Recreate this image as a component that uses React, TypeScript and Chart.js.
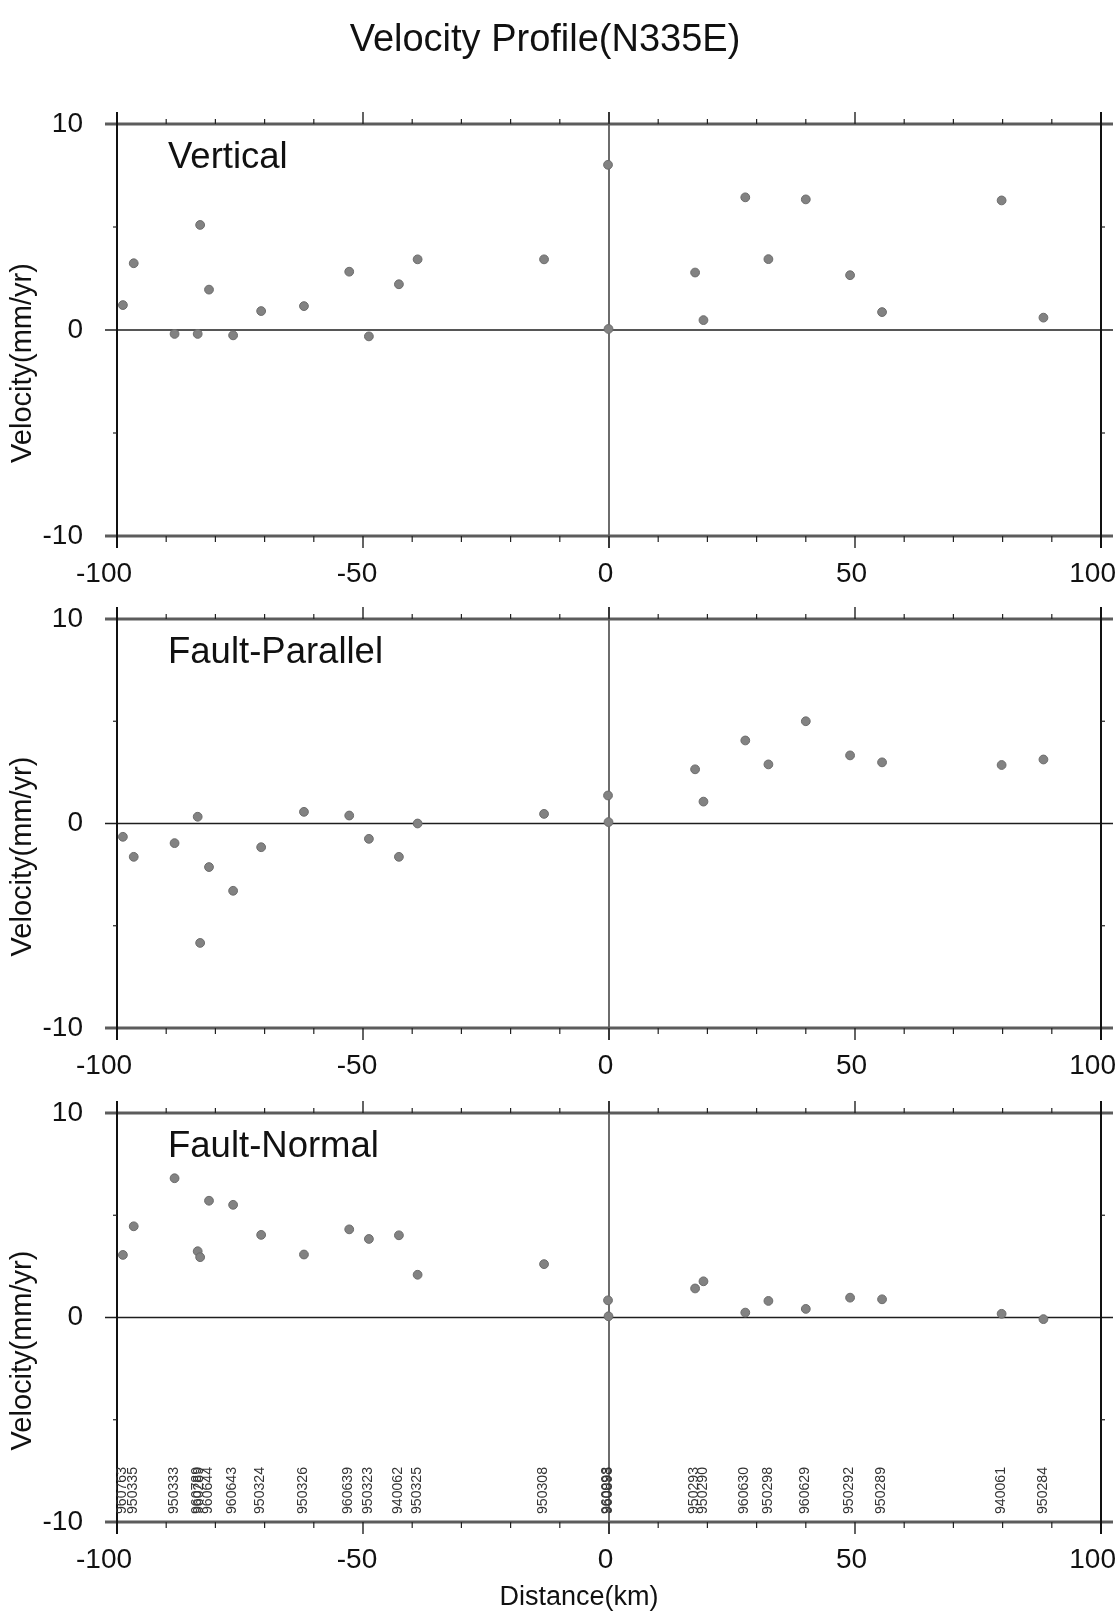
import { useEffect, useRef } from 'react';
import { Chart, registerables } from 'chart.js';

Chart.register(...registerables);

const FONT = '"Liberation Sans", Arial, Helvetica, sans-serif';

// ---- data ----
const stationNames = [
  '960763', '950335', '950333', '960789', '960289', '960644', '960643', '950324',
  '950326', '960639', '950323', '940062', '950325', '950308', '960098', '960893',
  '950293', '950290', '960630', '950298', '960629', '950292', '950289', '940061', '950284',
];
const distances = [
  -98.8, -96.6, -88.3, -83.6, -83.1, -81.3, -76.4, -70.7,
  -62.0, -52.8, -48.8, -42.7, -38.9, -13.2, -0.2, -0.1,
  17.5, 19.2, 27.7, 32.4, 40.0, 49.0, 55.5, 79.8, 88.3,
];
const verticalVel = [
  1.21, 3.24, -0.19, -0.19, 5.1, 1.96, -0.26, 0.92,
  1.16, 2.83, -0.31, 2.22, 3.43, 3.43, 8.02, 0.05,
  2.79, 0.48, 6.44, 3.44, 6.34, 2.66, 0.87, 6.29, 0.6,
];
const parallelVel = [
  -0.65, -1.63, -0.96, 0.33, -5.84, -2.13, -3.29, -1.16,
  0.57, 0.39, -0.75, -1.63, 0.0, 0.47, 1.37, 0.07,
  2.65, 1.07, 4.06, 2.89, 5.0, 3.33, 2.99, 2.86, 3.13,
];
const normalVel = [
  3.06, 4.46, 6.81, 3.24, 2.95, 5.71, 5.51, 4.04,
  3.08, 4.31, 3.84, 4.02, 2.09, 2.61, 0.84, 0.06,
  1.42, 1.77, 0.24, 0.81, 0.42, 0.97, 0.89, 0.18, -0.08,
];
const xTickValues = [-100, -50, 0, 50, 100];
const yTickValues = [-10, 0, 10];
const xMinorTicks = [-90, -80, -70, -60, -40, -30, -20, -10, 10, 20, 30, 40, 60, 70, 80, 90];
const xMajorInner = [-50, 0, 50];
const yMinorTicks = [-5, 5];
const panelTitles = ['Vertical', 'Fault-Parallel', 'Fault-Normal'];
const mainTitle = 'Velocity Profile(N335E)';
const yAxisTitle = 'Velocity(mm/yr)';
const xAxisTitle = 'Distance(km)';

type PanelCfg = {
  label: string;
  values: number[];
  top: number;
  height: number;
  padTop: number;
  xAxisHeight: number;
  first: boolean;
  last: boolean;
};

const panels: PanelCfg[] = [
  { label: panelTitles[0], values: verticalVel, top: 0, height: 594, padTop: 124, xAxisHeight: 58, first: true, last: false },
  { label: panelTitles[1], values: parallelVel, top: 594, height: 492, padTop: 25, xAxisHeight: 58, first: false, last: false },
  { label: panelTitles[2], values: normalVel, top: 1086, height: 528, padTop: 27, xAxisHeight: 92, first: false, last: true },
];

function makePlugin(cfg: PanelCfg) {
  return {
    id: 'profileFrame',
    beforeDatasetsDraw(chart: any) {
      const { ctx, chartArea, scales } = chart;
      const { left, right, top, bottom } = chartArea;
      const xs = scales.x;
      const ys = scales.y;
      const seg = (x1: number, y1: number, x2: number, y2: number) => {
        ctx.beginPath();
        ctx.moveTo(x1, y1);
        ctx.lineTo(x2, y2);
        ctx.stroke();
      };
      ctx.save();
      const y0 = ys.getPixelForValue(0);
      const x0 = xs.getPixelForValue(0);
      // zero lines
      ctx.strokeStyle = '#1e1e1e';
      ctx.lineWidth = 1.6;
      seg(left - 12, y0, right + 12, y0);
      ctx.lineWidth = 1.3;
      seg(x0, top - 12, x0, bottom + 12);
      // top / bottom frame (thick gray)
      ctx.strokeStyle = '#5c5c5c';
      ctx.lineWidth = 3;
      seg(left - 12, top, right + 12, top);
      seg(left - 12, bottom, right + 12, bottom);
      // left / right frame
      ctx.strokeStyle = '#111';
      ctx.lineWidth = 2;
      seg(left, top - 12, left, bottom + 12);
      seg(right, top - 12, right, bottom + 12);
      // ticks
      ctx.lineWidth = 1.2;
      ctx.strokeStyle = '#222';
      xMinorTicks.forEach((v) => {
        const px = xs.getPixelForValue(v);
        seg(px, top, px, top - 5);
        seg(px, bottom, px, bottom + 6);
      });
      ctx.lineWidth = 1.4;
      xMajorInner.forEach((v) => {
        const px = xs.getPixelForValue(v);
        seg(px, top, px, top - 12);
        seg(px, bottom, px, bottom + 12);
      });
      ctx.lineWidth = 1.2;
      yMinorTicks.forEach((v) => {
        const py = ys.getPixelForValue(v);
        seg(left - 4, py, left, py);
        seg(right, py, right + 4, py);
      });
      ctx.restore();
    },
    afterDraw(chart: any) {
      const { ctx, chartArea, scales, width } = chart;
      const { left, top, bottom } = chartArea;
      const xs = scales.x;
      ctx.save();
      ctx.fillStyle = '#111';
      // x tick labels
      ctx.font = `28px ${FONT}`;
      ctx.textAlign = 'center';
      ctx.textBaseline = 'middle';
      xTickValues.forEach((v, i) => {
        const label = String(v);
        const w = ctx.measureText(label).width;
        let cx = xs.getPixelForValue(v) + (v < 0 ? -6 : -3.5);
        if (i === 0) cx = xs.getPixelForValue(v) - 13;
        if (cx + w / 2 > width - 4) cx = width - 4 - w / 2;
        ctx.fillText(label, cx, bottom + 38);
      });
      // panel label
      ctx.font = `36.5px ${FONT}`;
      ctx.textAlign = 'left';
      ctx.textBaseline = 'alphabetic';
      ctx.fillText(cfg.label, left + 51, top + 43.5);
      // y axis title
      ctx.save();
      ctx.translate(23, (top + bottom) / 2 + 33);
      ctx.rotate(-Math.PI / 2);
      ctx.font = `29px ${FONT}`;
      ctx.textAlign = 'center';
      ctx.textBaseline = 'middle';
      ctx.fillText(yAxisTitle, 0, 0);
      ctx.restore();
      if (cfg.first) {
        ctx.font = `38px ${FONT}`;
        ctx.textAlign = 'center';
        ctx.textBaseline = 'alphabetic';
        ctx.fillText(mainTitle, 545, 51);
      }
      if (cfg.last) {
        // station labels
        ctx.fillStyle = '#333';
        stationNames.forEach((name, i) => {
          const px = xs.getPixelForValue(distances[i]) - 1;
          ctx.save();
          ctx.translate(px, bottom - 8);
          ctx.rotate(-Math.PI / 2);
          ctx.scale(0.94, 1);
          ctx.font = `15px ${FONT}`;
          ctx.textAlign = 'left';
          ctx.textBaseline = 'middle';
          ctx.fillText(name, 0, 0);
          ctx.restore();
        });
        ctx.fillStyle = '#111';
        ctx.font = `27px ${FONT}`;
        ctx.textAlign = 'center';
        ctx.textBaseline = 'alphabetic';
        ctx.fillText(xAxisTitle, 579, 1605 - cfg.top);
      }
      ctx.restore();
    },
  };
}

function Panel({ cfg }: { cfg: PanelCfg }) {
  const ref = useRef<HTMLCanvasElement | null>(null);
  useEffect(() => {
    if (!ref.current) return;
    const chart = new Chart(ref.current, {
      type: 'scatter',
      data: {
        datasets: [
          {
            data: distances.map((d, i) => ({ x: d, y: cfg.values[i] })),
            pointRadius: 4.4,
            pointBackgroundColor: '#828282',
            pointBorderColor: '#6c6c6c',
            pointBorderWidth: 1,
            showLine: false,
          },
        ],
      },
      options: {
        animation: false,
        responsive: false,
        devicePixelRatio: 1,
        layout: { padding: { top: cfg.padTop, right: 19, bottom: 0, left: 0 } },
        plugins: {
          legend: { display: false },
          tooltip: { enabled: false },
          title: { display: false },
        },
        scales: {
          x: {
            type: 'linear',
            position: 'bottom',
            min: -100,
            max: 100,
            grid: { display: false, drawTicks: false },
            border: { display: false },
            ticks: { display: false },
            afterBuildTicks: (s: any) => {
              s.ticks = xTickValues.map((v) => ({ value: v }));
            },
            afterFit: (s: any) => {
              s.height = cfg.xAxisHeight;
              s.paddingLeft = 0;
              s.paddingRight = 0;
            },
          },
          y: {
            type: 'linear',
            min: -10,
            max: 10,
            grid: { display: false, drawTicks: false },
            border: { display: false },
            ticks: {
              padding: 34,
              color: '#111',
              font: { size: 28, family: FONT },
            },
            afterBuildTicks: (s: any) => {
              s.ticks = yTickValues.map((v) => ({ value: v }));
            },
            afterFit: (s: any) => {
              s.width = 117;
              s.paddingTop = 0;
              s.paddingBottom = 0;
            },
          },
        },
      } as any,
      plugins: [makePlugin(cfg)],
    });
    return () => chart.destroy();
  }, [cfg]);
  return (
    <canvas
      ref={ref}
      width={1120}
      height={cfg.height}
      style={{ position: 'absolute', left: 0, top: cfg.top, width: 1120, height: cfg.height, display: 'block' }}
    />
  );
}

export default function App() {
  return (
    <div style={{ position: 'absolute', left: 0, top: 0, width: 1120, height: 1614, background: '#fff', overflow: 'hidden' }}>
      {panels.map((p) => (
        <Panel key={p.label} cfg={p} />
      ))}
    </div>
  );
}
